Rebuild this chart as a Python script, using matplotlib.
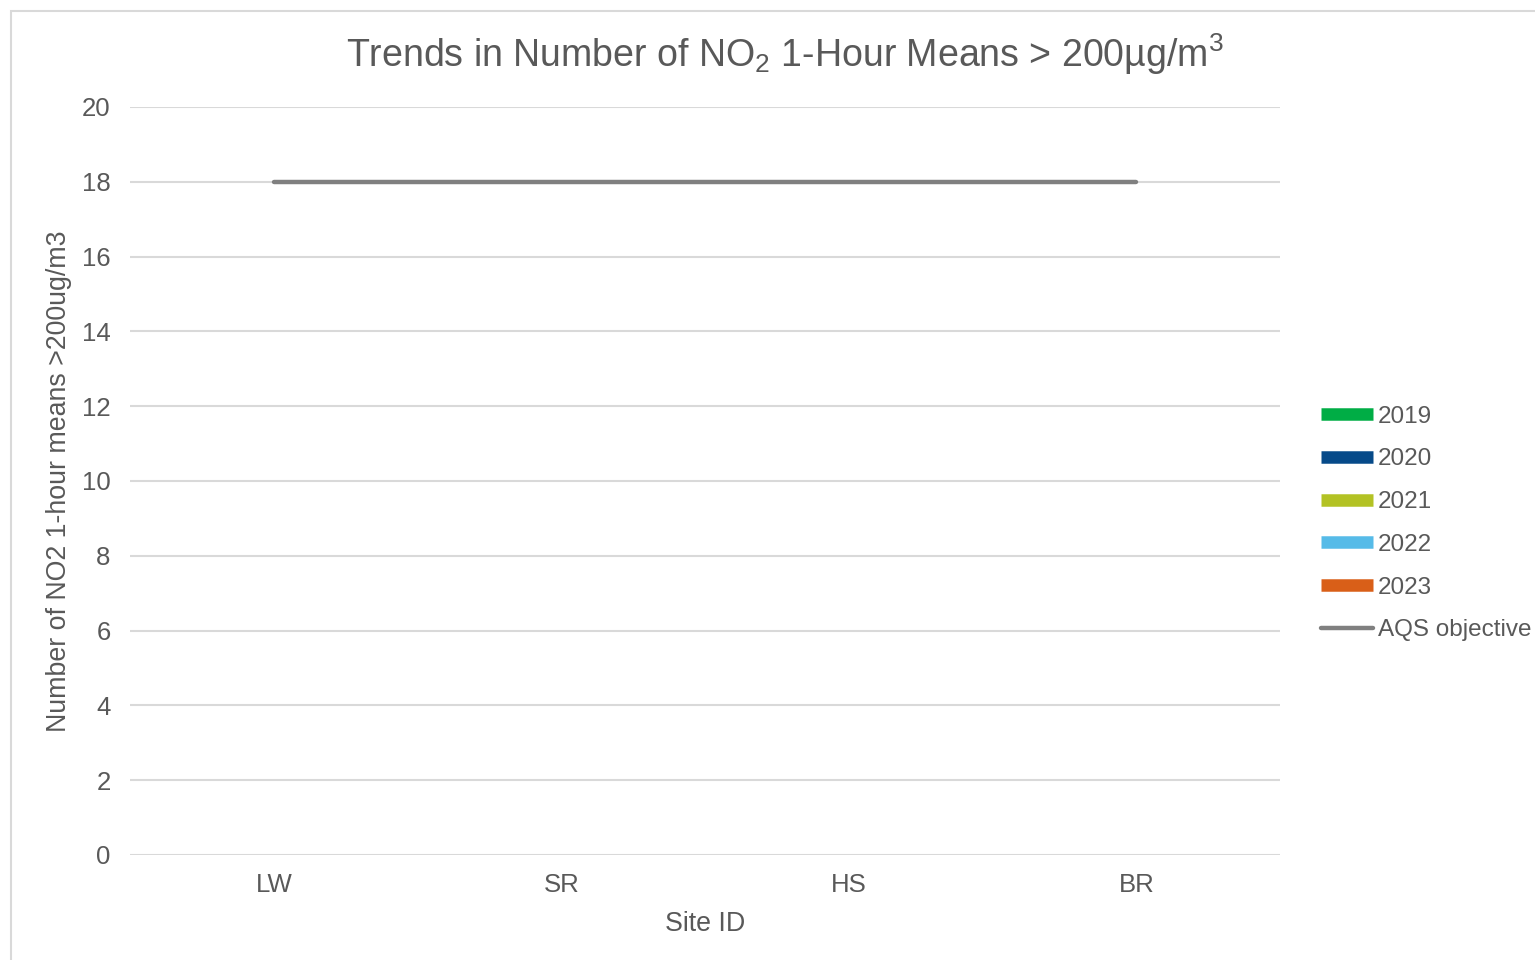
import numpy as np
import matplotlib
matplotlib.use("Agg")
import matplotlib.pyplot as plt
from matplotlib.lines import Line2D
from matplotlib.patches import Rectangle

plt.rcParams['font.family'] = ['Liberation Sans', 'DejaVu Sans']
plt.rcParams['mathtext.fontset'] = 'custom'
plt.rcParams['mathtext.rm'] = 'Liberation Sans'
plt.rcParams['mathtext.it'] = 'Liberation Sans'

sites = ['LW', 'SR', 'HS', 'BR']
years = ['2019', '2020', '2021', '2022', '2023']
# number of 1-hour means > 200ug/m3 per site, per year (all zero)
exceedances = {
    '2019': [0, 0, 0, 0],
    '2020': [0, 0, 0, 0],
    '2021': [0, 0, 0, 0],
    '2022': [0, 0, 0, 0],
    '2023': [0, 0, 0, 0],
}
aqs_objective = [18, 18, 18, 18]

year_colors = ['#00AD45', '#064A89', '#B3C224', '#56BBE8', '#D95F18']
text_color = '#595959'
grid_color = '#D9D9D9'

fig = plt.figure(figsize=(15.35, 9.6), dpi=100)
ax = fig.add_axes([0.0847, 0.1094, 0.7492, 0.7792])

x = np.arange(len(sites))
width = 0.8 / len(years)
for i, (year, color) in enumerate(zip(years, year_colors)):
    ax.bar(x - 0.4 + width * (i + 0.5), exceedances[year], width, color=color, label=year)
ax.plot(x, aqs_objective, color='#808080', lw=3.2, solid_capstyle='round', label='AQS objective', zorder=3)

ax.set_xlim(-0.5, len(sites) - 0.5)
ax.set_ylim(0, 20)
ax.set_yticks(range(0, 21, 2))
ax.set_xticks(x)
ax.set_xticklabels(sites)
ax.grid(axis='y', color=grid_color, lw=1.5)
ax.set_axisbelow(True)
for s in ax.spines.values():
    s.set_visible(False)
ax.tick_params(length=0, labelsize=18.5, colors=text_color, pad=14)
ax.tick_params(axis='x', pad=13)

ax.set_xlabel('Site ID', fontsize=19.3, color=text_color, labelpad=10)
ax.set_ylabel('Number of NO2 1-hour means >200ug/m3', fontsize=19.3, color=text_color, labelpad=7)
fig.text(785 / 1535, 0.944, r'Trends in Number of NO$_2$ 1-Hour Means > 200µg/m$^3$',
         ha='center', va='center', fontsize=27, color=text_color)

handles = [Line2D([], [], color=c, lw=9, solid_capstyle='butt') for c in year_colors]
handles.append(Line2D([], [], color='#808080', lw=3.2, solid_capstyle='round'))
leg = fig.legend(handles, years + ['AQS objective'], loc='center left',
                 bbox_to_anchor=(0.8605, 0.4547), frameon=False, fontsize=17.5,
                 handlelength=2.14, handletextpad=0.2, labelspacing=0.85,
                 borderaxespad=0, borderpad=0)
for t in leg.get_texts():
    t.set_color(text_color)

fig.patches.append(Rectangle((11 / 1535, -0.05), 1.1, 0.05 + 1 - 11 / 960,
                             transform=fig.transFigure, fill=False,
                             edgecolor=grid_color, lw=1.5))

fig.savefig('out.png', dpi=100)
